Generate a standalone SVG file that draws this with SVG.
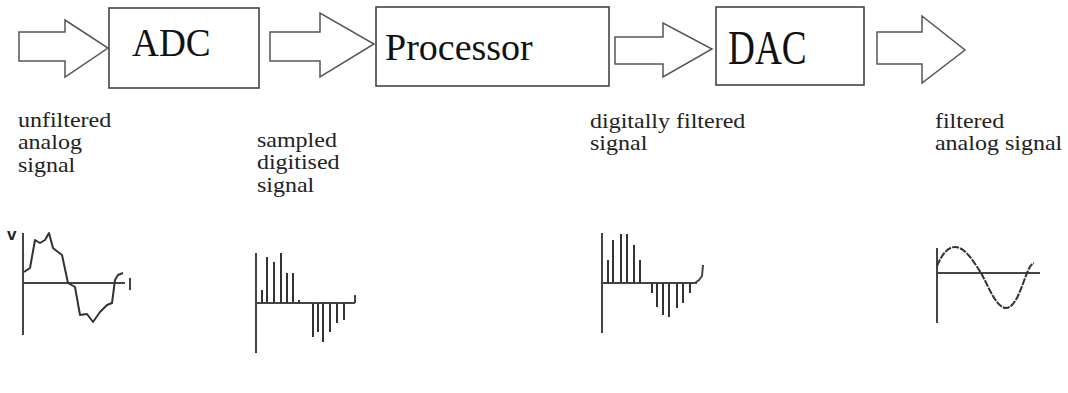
<svg xmlns="http://www.w3.org/2000/svg" width="1068" height="393" viewBox="0 0 1068 393">
<style>
.box{fill:#fff;stroke:#444;stroke-width:1.6}
.barrow{fill:#fff;stroke:#555;stroke-width:1.5;stroke-linejoin:miter}
.big{font-family:"Liberation Serif","Times New Roman",serif;font-size:38px;fill:#111}
.lbl{font-family:"Liberation Serif","Times New Roman",serif;font-size:21px;fill:#222}
.ax{stroke:#444;stroke-width:2;fill:none}
.wave{stroke:#333;stroke-width:2;fill:none;stroke-linejoin:round}
.bar{stroke:#333;stroke-width:2}
</style>
<rect width="1068" height="393" fill="#fff"/>
<g id="connectors">
<polygon class="barrow" points="19,32 65,32 65,20 108,48 65,77 65,61 19,61"/>
<polygon class="barrow" points="270,32 320,32 320,13 374,44 320,77 320,61 270,61"/>
<polygon class="barrow" points="615,37 663,37 663,23 712,49 663,77 663,64 615,64"/>
<polygon class="barrow" points="877,32 922,32 922,16 965,50 922,83 922,64 877,64"/>
</g>
<g id="adc">
<rect class="box" x="109" y="8" width="150" height="80"/>
<text class="big" transform="translate(132,56) scale(0.98,1.08)">ADC</text>
</g>
<g id="processor">
<rect class="box" x="376" y="7" width="233" height="79"/>
<text class="big" x="385" y="60">Processor</text>
</g>
<g id="dac">
<rect class="box" x="716" y="7" width="148" height="78"/>
<text class="big" transform="translate(728,64) scale(0.98,1.3)">DAC</text>
</g>
<g id="labels" transform="scale(1.143,1)">
<text class="lbl" x="15.7" y="127">unfiltered</text>
<text class="lbl" x="15.7" y="149.5">analog</text>
<text class="lbl" x="15.7" y="172">signal</text>
<text class="lbl" x="224.8" y="147">sampled</text>
<text class="lbl" x="224.8" y="169.5">digitised</text>
<text class="lbl" x="224.8" y="192">signal</text>
<text class="lbl" x="516.2" y="128">digitally filtered</text>
<text class="lbl" x="516.2" y="150.5">signal</text>
<text class="lbl" x="818" y="128">filtered</text>
<text class="lbl" x="818" y="150.5">analog signal</text>
</g>
<g id="graph1">
<text x="7" y="240" font-family="Liberation Sans,sans-serif" font-size="17" font-weight="bold" fill="#222">v</text>
<line class="ax" x1="23" y1="233" x2="23" y2="335"/>
<line class="ax" x1="23" y1="283" x2="125" y2="283"/>
<line class="ax" x1="130" y1="278" x2="130" y2="290"/>
<polyline class="wave" points="24,272 30,268 35,240 40,243 45,240 49,233 53,248 58,252 62,255 68,283 75,287 80,315 87,314 93,322 100,312 107,305 112,303 115,280 118,275 123,273"/>
</g>
<g id="graph2">
<line class="ax" x1="256" y1="253" x2="256" y2="353"/>
<line class="ax" x1="256" y1="303" x2="355" y2="303"/>
<line class="ax" x1="355" y1="303" x2="355" y2="295"/>
<g class="bar">
<line x1="262" y1="303" x2="262" y2="290"/>
<line x1="267" y1="303" x2="267" y2="257"/>
<line x1="274" y1="303" x2="274" y2="262"/>
<line x1="281" y1="303" x2="281" y2="253"/>
<line x1="287" y1="303" x2="287" y2="273"/>
<line x1="293" y1="303" x2="293" y2="273"/>
<line x1="299" y1="303" x2="299" y2="300"/>
<line x1="313" y1="303" x2="313" y2="337"/>
<line x1="318" y1="303" x2="318" y2="332"/>
<line x1="323" y1="303" x2="323" y2="342"/>
<line x1="330" y1="303" x2="330" y2="332"/>
<line x1="337" y1="303" x2="337" y2="323"/>
<line x1="344" y1="303" x2="344" y2="320"/>
</g>
</g>
<g id="graph3">
<line class="ax" x1="602" y1="233" x2="602" y2="333"/>
<line class="ax" x1="602" y1="283" x2="697" y2="283"/>
<polyline class="ax" points="695,283 699,280 702,276 703,265"/>
<g class="bar">
<line x1="608" y1="283" x2="608" y2="260"/>
<line x1="613" y1="283" x2="613" y2="240"/>
<line x1="621" y1="283" x2="621" y2="234"/>
<line x1="627" y1="283" x2="627" y2="234"/>
<line x1="634" y1="283" x2="634" y2="245"/>
<line x1="640" y1="283" x2="640" y2="260"/>
<line x1="652" y1="283" x2="652" y2="293"/>
<line x1="657" y1="283" x2="657" y2="307"/>
<line x1="663" y1="283" x2="663" y2="315"/>
<line x1="669" y1="283" x2="669" y2="317"/>
<line x1="677" y1="283" x2="677" y2="308"/>
<line x1="683" y1="283" x2="683" y2="303"/>
<line x1="690" y1="283" x2="690" y2="293"/>
</g>
</g>
<g id="graph4">
<line class="ax" x1="937" y1="248" x2="937" y2="323"/>
<line class="ax" x1="937" y1="273" x2="1040" y2="273"/>
<path class="wave" stroke-dasharray="7,1.2" d="M937,266 C942,254 948,247 955,247 C965,247 974,262 981,273 C988,285 996,308 1006,308 C1016,308 1022,285 1027,273 C1029,268 1031,264 1034,263"/>
</g>
</svg>
